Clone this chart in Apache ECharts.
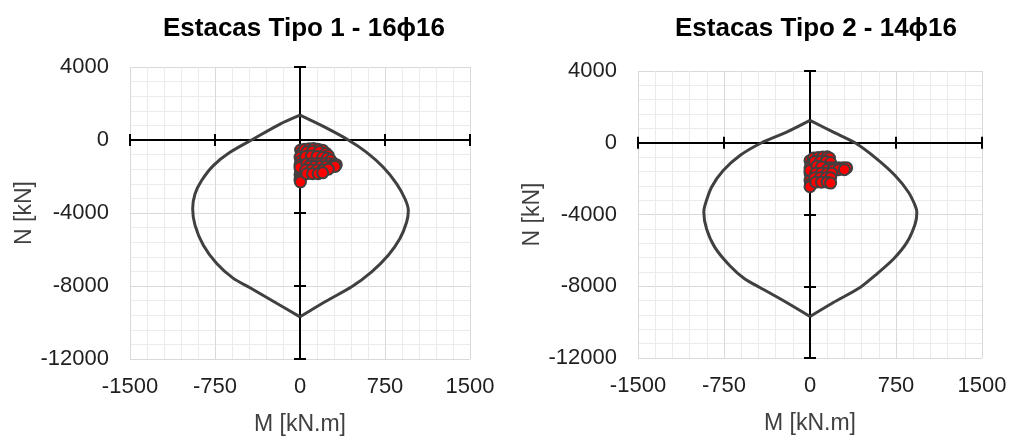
<!DOCTYPE html>
<html>
<head>
<meta charset="utf-8">
<script src="https://cdn.jsdelivr.net/npm/echarts@6/dist/echarts.min.js"></script>
<style>
html, body { margin:0; padding:0; background:#fff; }
#chart { width:1013px; height:441px; }
</style>
</head>
<body>
<div id="chart"></div>
<script>
// interaction diagram, Estacas Tipo 1 (M in kN.m, N in kN), right and left halves
let curve1RightM = [0, 206, 426, 588, 735, 853, 926, 956, 941, 882, 779, 632, 456, 206, 0];
let curve1RightN = [1360, 742, 0, -676, -1495, -2400, -3220, -3857, -4495, -5400, -6312, -7223, -8042, -8914, -9690];
let curve1LeftM = [0, -206, -441, -588, -735, -853, -926, -947, -926, -868, -765, -618, -412, -176, 0];
let curve1LeftN = [-9690, -8947, -8096, -7583, -6765, -5766, -4675, -3764, -2946, -2220, -1402, -676, 55, 873, 1360];

// interaction diagram, Estacas Tipo 2
let curve2RightM = [0, 204, 393, 582, 742, 859, 917, 932, 917, 845, 728, 582, 437, 204, 0];
let curve2RightN = [1246, 592, 0, -894, -1827, -2760, -3503, -3877, -4525, -5553, -6480, -7318, -8067, -8905, -9687];
let curve2LeftM = [0, -204, -437, -568, -699, -830, -902, -926, -917, -859, -757, -611, -422, -204, 0];
let curve2LeftN = [-9687, -8905, -8067, -7598, -6855, -5832, -4804, -3877, -3503, -2480, -1547, -710, 0, 592, 1246];

// load combinations on the piles
let loads1M = [5, 12, 0, 8, 0, 14, 3, 10, 0, 6, 0, 4, 0,
    40, 80, 120, 160, 200, 60, 110, 170, 230, 250,
    50, 100, 150, 200, 240, 270,
    60, 100, 140, 180, 220, 260, 300, 320,
    80, 130, 180, 230, 280, 310,
    50, 100, 150, 200, 250, 60, 110, 160, 200];
let loads1N = [-550, -750, -950, -1150, -1350, -1450, -1600, -1750, -1900, -2050, -2200, -2300, -1500,
    -500, -480, -470, -500, -560, -650, -620, -640, -720, -850,
    -900, -880, -900, -950, -1000, -1100,
    -1300, -1300, -1300, -1300, -1300, -1300, -1300, -1350,
    -1450, -1450, -1450, -1450, -1450, -1450,
    -1650, -1650, -1650, -1650, -1600, -1850, -1850, -1850, -1800];

let loads2M = [0, 10, 0, 15, 0, 10, 0, 5, 0, 0,
    30, 70, 110, 150, 170,
    40, 90, 140, 180,
    130, 170, 210, 250, 290, 320, 60, 100, 150, 200, 250, 300,
    50, 100, 150, 190, 40, 90, 140, 180, 50, 100, 150, 180];
let loads2N = [-1000, -1200, -1400, -1550, -1700, -1900, -2100, -2300, -2450, -1550,
    -850, -820, -800, -780, -850,
    -1050, -1050, -1050, -1100,
    -1400, -1400, -1400, -1400, -1400, -1400, -1300, -1350, -1500, -1500, -1500, -1500,
    -1700, -1700, -1700, -1700, -1950, -1950, -1950, -1950, -2200, -2200, -2200, -2250];

let titles = ['Estacas Tipo 1 - 16\u03d516', 'Estacas Tipo 2 - 14\u03d516'];
let xTicks = [-1500, 1500, 750];
let yTicks = [-12000, 4000, 4000];

let font = 'Liberation Sans, Arial, sans-serif';

function pairs(xs, ys)
{
    let out = [];
    for (let i = 0; i < xs.length; i++) {
        out.push([xs[i], ys[i]]);
    }
    return out;
}

// three axes per direction and grid: one with labels and grid lines,
// two drawn through zero (ticks inside and outside so they cross the line)
function make_axes(dim, gi)
{
    let t = dim === 'x' ? xTicks : yTicks;
    let base = { type: 'value', gridIndex: gi, min: t[0], max: t[1], interval: t[2] };
    let label = Object.assign({}, base, {
        axisLine: { show: false, onZero: false },
        axisTick: { show: false },
        axisLabel: {
            fontSize: 22, color: '#1f1f1f', fontFamily: font,
            margin: dim === 'x' ? 17 : 21,
            formatter: v => String(v)
        },
        splitLine: { show: true, lineStyle: { color: '#d9d9d9', width: 1 } },
        minorTick: { show: false, splitNumber: 5 },
        minorSplitLine: { show: true, lineStyle: { color: '#ebebeb', width: 1 } },
        name: dim === 'x' ? 'M [kN.m]' : 'N [kN]',
        nameLocation: 'middle',
        nameGap: dim === 'x' ? 54 : 94,
        nameTextStyle: { fontSize: 23, color: '#404040', fontFamily: font }
    });
    let cross = [true, false].map(inside => Object.assign({}, base, {
        axisLine: { show: true, onZero: true, lineStyle: { color: '#000', width: 2 } },
        axisTick: { show: true, inside: inside, length: 6, lineStyle: { color: '#000', width: 2 } },
        axisLabel: { show: false },
        splitLine: { show: false }
    }));
    return [label].concat(cross);
}

function curve(axisIdx, ms, ns)
{
    return {
        type: 'line', xAxisIndex: axisIdx, yAxisIndex: axisIdx,
        data: pairs(ms, ns),
        showSymbol: false, smooth: 0.25, z: 3,
        lineStyle: { color: '#404040', width: 3 }
    };
}

function loads(axisIdx, ms, ns)
{
    return {
        type: 'scatter', xAxisIndex: axisIdx, yAxisIndex: axisIdx,
        data: pairs(ms, ns),
        symbolSize: 11, z: 4,
        itemStyle: { color: '#ff0000', borderColor: '#404040', borderWidth: 2, opacity: 1 }
    };
}

let myChart = echarts.init(document.getElementById('chart'));

let titleStyle = { fontSize: 26, fontWeight: 'bold', color: '#000', fontFamily: font };

let option = {
    animation: false,
    title: [
        { text: titles[0], left: 299, top: 11, textAlign: 'center', textStyle: titleStyle },
        { text: titles[1], left: 811, top: 11, textAlign: 'center', textStyle: titleStyle }
    ],
    grid: [
        { left: 130, top: 67, width: 340, height: 292, outerBoundsMode: 'none' },
        { left: 638, top: 71, width: 344, height: 287, outerBoundsMode: 'none' }
    ],
    xAxis: make_axes('x', 0).concat(make_axes('x', 1)),
    yAxis: make_axes('y', 0).concat(make_axes('y', 1)),
    series: [
        curve(0, curve1RightM, curve1RightN),
        curve(0, curve1LeftM, curve1LeftN),
        loads(0, loads1M, loads1N),
        curve(3, curve2RightM, curve2RightN),
        curve(3, curve2LeftM, curve2LeftN),
        loads(3, loads2M, loads2N)
    ]
};

myChart.setOption(option);
</script>
</body>
</html>
